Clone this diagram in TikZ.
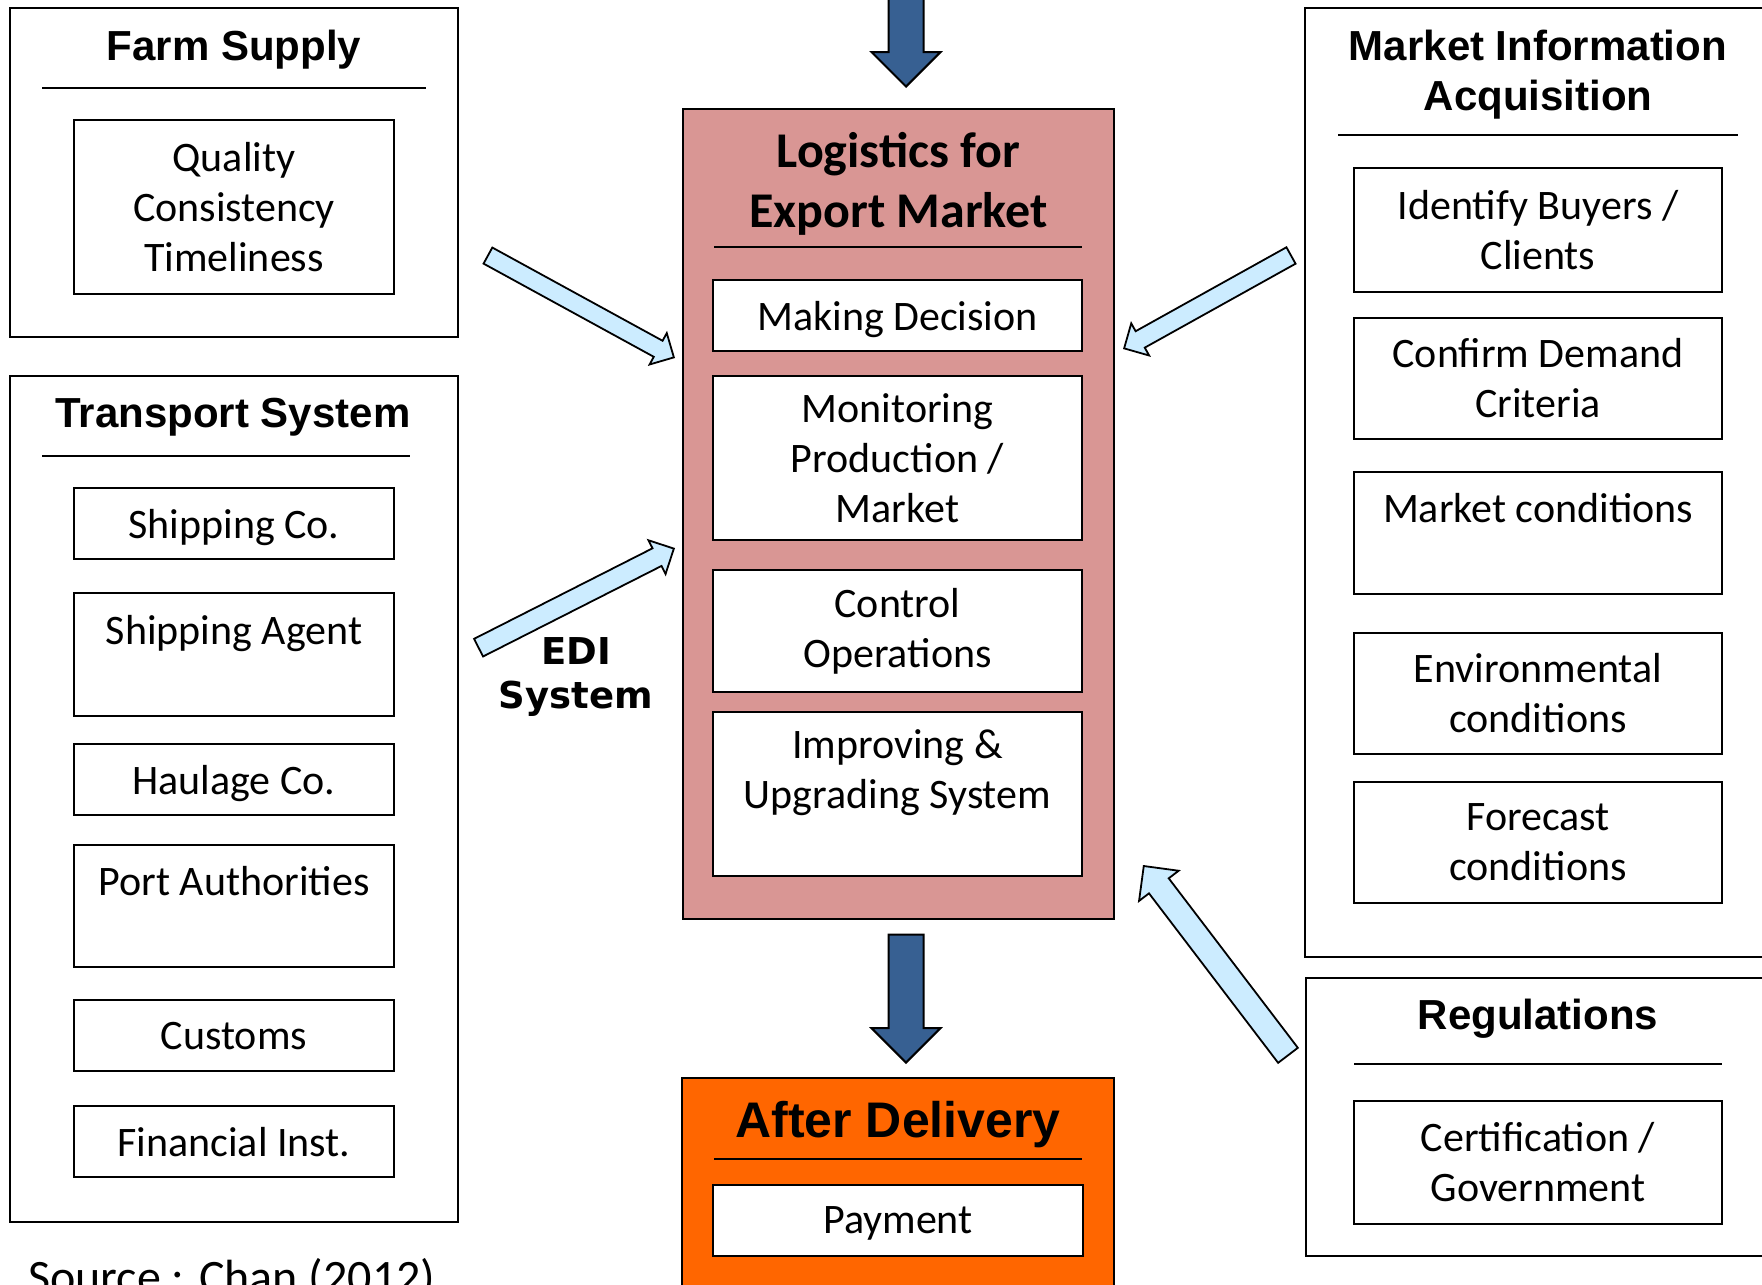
\documentclass[tikz,border=0pt]{standalone}
\usepackage{fontspec}
\setmainfont{Carlito}
\newfontfamily\arialfont{Liberation Sans}
\newfontfamily\verdanafont{DejaVu Sans}
\usetikzlibrary{shapes.arrows}

\definecolor{logpink}{HTML}{D99694}
\definecolor{delivorange}{HTML}{FF6600}
\definecolor{flowblue}{HTML}{376092}
\definecolor{inblue}{HTML}{CCECFF}

\tikzset{
  group/.style={draw, line width=2.5pt, inner sep=0pt},
  item/.style={draw, fill=white, line width=2.5pt, inner sep=0pt, align=center,
    font=\fontsize{42}{50}\selectfont},
  oneline/.style={item, text depth=0pt},
  title/.style={align=center, font=\arialfont\bfseries\fontsize{42}{50}\selectfont},
  rule/.style={line width=2pt},
  flow/.style={single arrow, draw, line width=2pt, fill=flowblue, inner xsep=0pt,
    inner ysep=16.5pt, minimum width=67pt, single arrow head extend=17pt, anchor=tip},
  feed/.style={single arrow, draw, line width=1.8pt, fill=inblue, inner xsep=0pt, anchor=tip},
}

\begin{document}
\begin{tikzpicture}[x=1pt, y=-1pt]
\useasboundingbox (0,0) rectangle (1762,1285);
\clip (0,0) rectangle (1762,1285);

% % farm supply
\node[group, minimum width=448pt, minimum height=329pt] (farm) at (234,172.5) {};
\node[title] (farmtitle) at (234,50) {Farm Supply};
\draw[rule] (42,88) -- (426,88);
\node[item, minimum width=320pt, minimum height=174pt] (quality) at (234,207) {Quality\\Consistency\\Timeliness};

% % transport system
\node[group, minimum width=448pt, minimum height=846pt] (transport) at (234,799) {};
\node[title] (transporttitle) at (233,417) {Transport System};
\draw[rule] (42,456) -- (410,456);
\node[oneline, minimum width=320pt, minimum height=71pt] (shipco) at (234,523.5) {Shipping Co.};
\node[item, minimum width=320pt, minimum height=123pt] (shipagent) at (234,654.5) {Shipping Agent\\\mbox{}};
\node[oneline, minimum width=320pt, minimum height=71pt] (haulage) at (234,779.5) {Haulage Co.};
\node[item, minimum width=320pt, minimum height=122pt] (port) at (234,906) {Port Authorities\\\mbox{}};
\node[oneline, minimum width=320pt, minimum height=71pt] (customs) at (234,1035.5) {Customs};
\node[oneline, minimum width=320pt, minimum height=71pt] (financial) at (234,1141.5) {Financial Inst.};
\node[anchor=base west, inner sep=0pt, font=\fontsize{48}{56}\selectfont] (source) at (28,1293) {Source : Chan (2012)};

% % logistics for export market
\node[group, fill=logpink, minimum width=431pt, minimum height=810pt] (logistics) at (898.5,514) {};
\node[align=center, font=\bfseries\fontsize{50}{60}\selectfont] (logtitle) at (898.5,184) {Logistics for\\Export Market};
\draw[rule] (714,247) -- (1082,247);
\node[oneline, minimum width=369pt, minimum height=71pt] (decision) at (897.5,315.5) {Making Decision};
\node[item, minimum width=369pt, minimum height=164pt] (monitoring) at (897.5,458) {Monitoring\\Production /\\Market};
\node[item, minimum width=369pt, minimum height=122pt] (control) at (897.5,631) {Control\\Operations};
\node[item, minimum width=369pt, minimum height=164pt] (improving) at (897.5,794) {Improving \&\\Upgrading System\\\mbox{}};

% % after delivery
\node[group, fill=delivorange, minimum width=432pt, minimum height=240pt] (delivery) at (898,1198) {};
\node[title, font=\arialfont\bfseries\fontsize{50}{58}\selectfont] (delivtitle) at (898,1125) {After Delivery};
\draw[rule] (714,1159) -- (1082,1159);
\node[oneline, minimum width=370pt, minimum height=71pt] (payment) at (898,1220.5) {Payment};

% % market information acquisition
\node[group, minimum width=495pt, minimum height=949pt] (market) at (1552.5,482.5) {};
\node[title] (markettitle) at (1538,75) {Market Information\\Acquisition};
\draw[rule] (1338,135) -- (1738,135);
\node[item, minimum width=368pt, minimum height=124pt] (buyers) at (1538,230) {Identify Buyers /\\Clients};
\node[item, minimum width=368pt, minimum height=121pt] (demand) at (1538,378.5) {Confirm Demand\\Criteria};
\node[item, minimum width=368pt, minimum height=122pt] (mktcond) at (1538,533) {Market conditions\\\mbox{}};
\node[item, minimum width=368pt, minimum height=121pt] (environ) at (1538,693.5) {Environmental\\conditions};
\node[item, minimum width=368pt, minimum height=121pt] (forecast) at (1538,842.5) {Forecast\\conditions};

% % regulations
\node[group, minimum width=494pt, minimum height=278pt] (regulations) at (1553,1117) {};
\node[title] (regtitle) at (1538,1019) {Regulations};
\draw[rule] (1354,1064) -- (1722,1064);
\node[item, minimum width=368pt, minimum height=123pt] (certification) at (1538,1162.5) {Certification /\\Government};

% % EDI label
\node[align=center, font=\verdanafont\bfseries\fontsize{37}{44.5}\selectfont] (edi) at (576,677) {EDI\\System};

% % block arrows
\coordinate (topTip) at (906,88);
\coordinate (downTip) at (906,1064);
\coordinate (farmTip) at (675,358);
\coordinate (ediTip) at (675,548);
\coordinate (marketTip) at (1123,349);
\coordinate (regTip) at (1143,865);

\node[flow, minimum height=130pt, rotate=-90] (inflow) at (topTip) {};
\node[flow, minimum height=128pt, rotate=-90] (outflow) at (downTip) {};
\node[feed, inner ysep=8.25pt, minimum width=34pt, single arrow head extend=8.75pt, minimum height=212pt, rotate=-28.7] (farmfeed) at (farmTip) {};
\node[feed, inner ysep=9pt, minimum width=36pt, single arrow head extend=9pt, minimum height=219pt, rotate=26.9] (edifeed) at (ediTip) {};
\node[feed, inner ysep=8.5pt, minimum width=35pt, single arrow head extend=9pt, minimum height=191pt, rotate=-150.9] (marketfeed) at (marketTip) {};
\node[feed, inner ysep=11.5pt, minimum width=48pt, single arrow head extend=12.5pt, minimum height=238pt, rotate=127.3] (regfeed) at (regTip) {};
\end{tikzpicture}
\end{document}
